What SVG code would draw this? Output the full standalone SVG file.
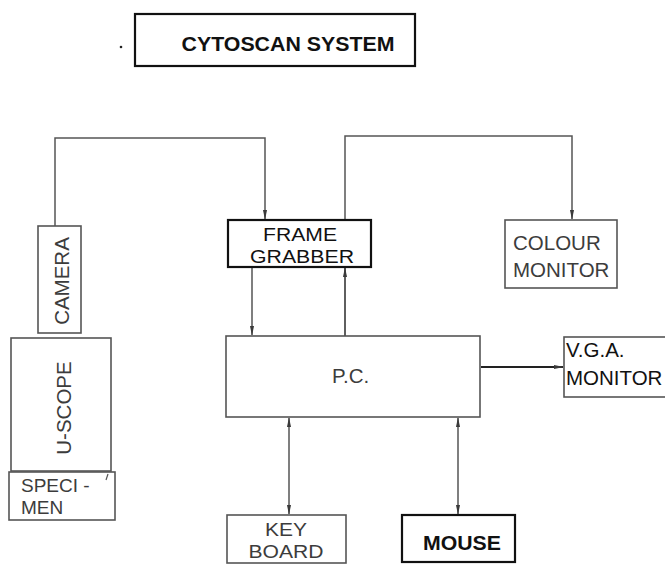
<svg xmlns="http://www.w3.org/2000/svg" width="665" height="565" viewBox="0 0 665 565">
<defs>
<marker id="ah" viewBox="0 0 10 10" refX="9" refY="5" markerWidth="10" markerHeight="5" markerUnits="userSpaceOnUse" orient="auto-start-reverse" preserveAspectRatio="none">
<path d="M0,1 L10,5 L0,9 z" fill="#3a3a3a"/>
</marker>
<style>
.bx{fill:#fff;stroke:#555;stroke-width:1.6}
.bk{fill:#fff;stroke:#111;stroke-width:2.2}
.t{font-family:"Liberation Sans",Arial,sans-serif;font-size:20.5px;fill:#3c3c3c}
.tb{font-family:"Liberation Sans",Arial,sans-serif;font-size:20.5px;fill:#111}
.s{font-size:19px}
.ln{fill:none;stroke:#555;stroke-width:1.5}
</style>
</defs>
<rect width="665" height="565" fill="#fff"/>

<g id="title">
<circle cx="121" cy="47" r="1.3" fill="#222"/>
<rect class="bk" x="135" y="14" width="280" height="52"/>
<text class="tb" x="288" y="51" text-anchor="middle" font-weight="bold" textLength="213" lengthAdjust="spacingAndGlyphs">CYTOSCAN SYSTEM</text>
</g>

<g id="connectors">
<path class="ln" d="M55,226 V138 H265 V219" marker-end="url(#ah)"/>
<path class="ln" d="M345,336 V136 H572 V219" marker-end="url(#ah)"/>
<path class="ln" d="M345,336 V268" marker-end="url(#ah)"/>
<path class="ln" d="M252,267 V335" marker-end="url(#ah)"/>
<path class="ln" d="M289,418 V514" marker-start="url(#ah)" marker-end="url(#ah)"/>
<path class="ln" d="M458,418 V514" marker-start="url(#ah)" marker-end="url(#ah)"/>
<path d="M481,367 H563" fill="none" stroke="#222" stroke-width="1.8" marker-end="url(#ah)"/>
</g>

<g id="camera">
<rect class="bx" x="38" y="226" width="43" height="107"/>
<text class="t" transform="translate(69,281) rotate(-90)" text-anchor="middle">CAMERA</text>
</g>

<g id="uscope">
<rect class="bx" x="11" y="338" width="100" height="133"/>
<text class="t" transform="translate(71,408) rotate(-90)" text-anchor="middle">U-SCOPE</text>
</g>

<g id="specimen">
<rect class="bx" x="9" y="472" width="106" height="48"/>
<text class="t s" x="21" y="492">SPECI -</text>
<path d="M108,474 L106,480" stroke="#555" stroke-width="1.2"/>
<text class="t s" x="21" y="514">MEN</text>
</g>

<g id="framegrabber">
<rect class="bk" x="228" y="220" width="143" height="47"/>
<text class="tb s" x="300" y="241" text-anchor="middle" textLength="74" lengthAdjust="spacingAndGlyphs">FRAME</text>
<text class="tb s" x="302" y="263" text-anchor="middle" textLength="104" lengthAdjust="spacingAndGlyphs">GRABBER</text>
</g>

<g id="colourmonitor">
<rect class="bx" x="505" y="220" width="112" height="68"/>
<text class="t" x="513" y="250">COLOUR</text>
<text class="t" x="513" y="277">MONITOR</text>
</g>

<g id="pc">
<rect class="bx" x="226" y="336" width="254" height="81"/>
<text class="t" x="332" y="383">P.C.</text>
</g>

<g id="vga">
<rect class="bx" x="564" y="337" width="110" height="60"/>
<text class="tb" x="566" y="357">V.G.A.</text>
<text class="tb" x="566" y="385">MONITOR</text>
</g>

<g id="keyboard">
<rect class="bx" x="227" y="515" width="119" height="48"/>
<text class="t s" x="286" y="536" text-anchor="middle" textLength="42" lengthAdjust="spacingAndGlyphs">KEY</text>
<text class="t s" x="286" y="558" text-anchor="middle" textLength="75" lengthAdjust="spacingAndGlyphs">BOARD</text>
</g>

<g id="mouse">
<rect class="bk" x="402" y="515" width="113" height="47"/>
<text class="tb" x="462" y="550" text-anchor="middle" font-weight="bold" textLength="78" lengthAdjust="spacingAndGlyphs">MOUSE</text>
</g>
</svg>
